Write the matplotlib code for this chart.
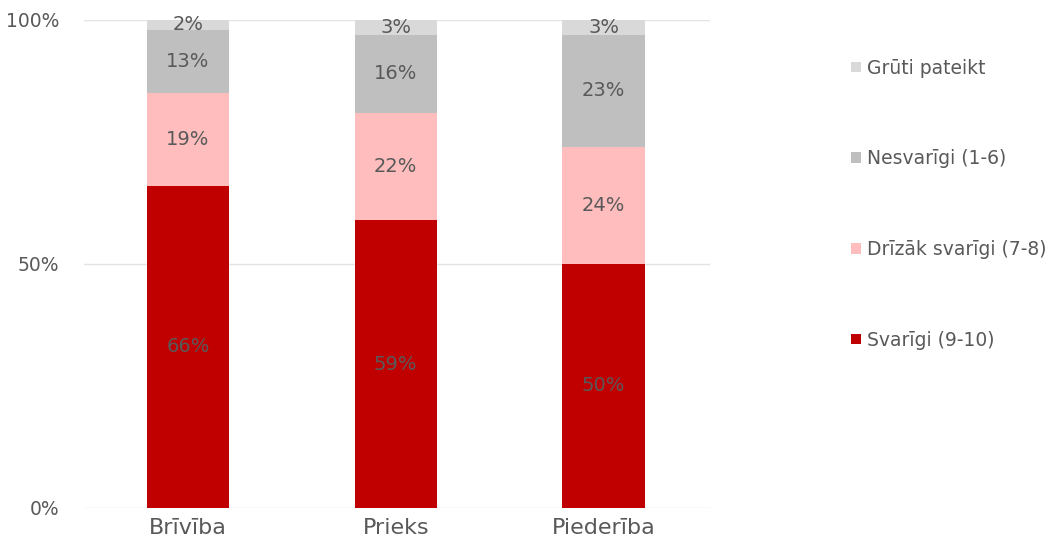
import matplotlib
matplotlib.use("Agg")
import matplotlib.pyplot as plt
import numpy as np

categories = ["Brīvība", "Prieks", "Piederība"]
series_names = ["Svarīgi (9-10)", "Drīzāk svarīgi (7-8)", "Nesvarīgi (1-6)", "Grūti pateikt"]
svarigi = [66, 59, 50]
drizak = [19, 22, 24]
nesvarigi = [13, 16, 23]
gruti = [2, 3, 3]
y_ticks = [0, 50, 100]
y_tick_labels = ["0%", "50%", "100%"]

colors = ["#C00000", "#FFBDBD", "#BFBFBF", "#D9D9D9"]
text_color = "#595959"

fig = plt.figure(figsize=(10.59, 5.49), dpi=100)
ax = fig.add_axes([0.0793, 0.0747, 0.5907, 0.8889])

series = [svarigi, drizak, nesvarigi, gruti]
x = np.arange(len(categories))
bottom = np.zeros(len(categories))
handles = []
for vals, name, c in zip(series, series_names, colors):
    vals = np.array(vals, dtype=float)
    b = ax.bar(x, vals, 0.395, bottom=bottom, color=c, label=name, zorder=3)
    handles.append(b)
    for xi, v, bt in zip(x, vals, bottom):
        ax.text(xi, bt + v / 2, f"{int(v)}%", ha="center", va="center",
                fontsize=14, color=text_color, zorder=4)
    bottom += vals

ax.set_xlim(-0.5, 2.51)
ax.set_ylim(0, 100)
ax.set_yticks(y_ticks)
ax.set_yticklabels(y_tick_labels, fontsize=13.5, color=text_color)
ax.set_xticks(x)
ax.set_xticklabels(categories, fontsize=16, color=text_color)
ax.tick_params(axis="both", length=0)
ax.tick_params(axis="y", pad=18)
ax.tick_params(axis="x", pad=7)
for s in ax.spines.values():
    s.set_visible(False)
ax.yaxis.grid(True, color="#E3E3E3", linewidth=1, zorder=0)
ax.set_axisbelow(True)

leg = fig.legend(handles[::-1], series_names[::-1], loc="upper left",
                 bbox_to_anchor=(0.804, 0.893), frameon=False,
                 fontsize=13.5, labelcolor=text_color,
                 handlelength=0.5, handleheight=0.5, handletextpad=0.35,
                 labelspacing=3.82, borderpad=0, borderaxespad=0)

fig.savefig("out.png", dpi=100)
